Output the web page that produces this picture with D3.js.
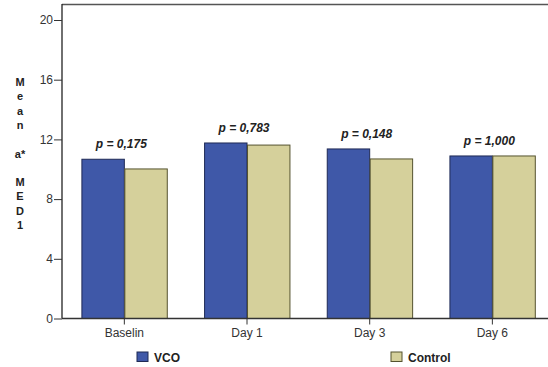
<!DOCTYPE html>
<html><head><meta charset="utf-8">
<script src="https://cdn.jsdelivr.net/npm/d3@7"></script>
<style>body{margin:0;background:#fff}svg{display:block}text{font-family:Arial,"Liberation Sans",sans-serif}</style>
</head><body>
<script>
const categories = ["Baselin", "Day 1", "Day 3", "Day 6"];
const series = ["VCO", "Control"];
const vco = [10.67, 11.76, 11.36, 10.89];
const control = [10.02, 11.62, 10.69, 10.89];
const pLabels = ["p = 0,175", "p = 0,783", "p = 0,148", "p = 1,000"];
const yTicks = [0, 4, 8, 12, 16, 20];
const yTitle = ["M","e","a","n","","a*","","M","E","D","1"];
const colors = {VCO: "#3f58a8", Control: "#d5d09b"};
const strokes = {VCO: "#1f2a55", Control: "#55532f"};

const W = 548, H = 367;
const svg = d3.select("body").append("svg").attr("width", W).attr("height", H);

const x0 = 63, x1 = 553.7, yTop = 20, yBot = 318.5;
const x = d3.scaleBand().domain(categories).range([x0, x1]).paddingInner(0.3).paddingOuter(0.15);
const xs = d3.scaleBand().domain(series).range([0, x.bandwidth()]);
const y = d3.scaleLinear().domain([0, 20]).range([yBot, yTop]);

// frame top
svg.append("line").attr("x1", 62).attr("x2", W).attr("y1", 4.5).attr("y2", 4.5)
  .attr("stroke", "#555").attr("stroke-width", 1.6);

const data = categories.map((c, i) => ({c, vals: [{s: "VCO", v: vco[i]}, {s: "Control", v: control[i]}], p: pLabels[i]}));

const g = svg.append("g").selectAll("g").data(data).join("g")
  .attr("transform", d => `translate(${x(d.c)},0)`);
g.selectAll("rect").data(d => d.vals).join("rect")
  .attr("x", d => xs(d.s) + 0.5)
  .attr("y", d => y(d.v))
  .attr("width", xs.bandwidth() - 0.5)
  .attr("height", d => yBot - y(d.v))
  .attr("fill", d => colors[d.s])
  .attr("stroke", d => strokes[d.s]).attr("stroke-width", 1);
g.append("text")
  .attr("x", x.bandwidth() / 2 - 3)
  .attr("y", d => y(d3.max(d.vals, v => v.v)) - 11)
  .attr("text-anchor", "middle")
  .attr("font-size", 12).attr("font-weight", "bold").attr("font-style", "italic")
  .attr("fill", "#222")
  .text(d => d.p);

// y axis
const ya = svg.append("g").attr("transform", `translate(62,0)`)
  .call(d3.axisLeft(y).tickValues(yTicks).tickSize(8).tickPadding(1));
ya.select(".domain").attr("d", `M0,4V${yBot}`).attr("stroke", "#222").attr("stroke-width", 1.3);
ya.selectAll(".tick line").attr("stroke", "#333");
ya.selectAll(".tick text").attr("font-size", 12).attr("fill", "#333")
  .style("font-family", "Arial, 'Liberation Sans', sans-serif");

// x axis
const xa = svg.append("g").attr("transform", `translate(0,${yBot})`)
  .call(d3.axisBottom(x).tickSize(6).tickPadding(4));
xa.select(".domain").attr("d", `M62,0H${W}`).attr("stroke", "#333").attr("stroke-width", 1.3);
xa.selectAll(".tick line").attr("stroke", "#333");
xa.selectAll(".tick text").attr("font-size", 12).attr("fill", "#333")
  .style("font-family", "Arial, 'Liberation Sans', sans-serif");

// y title stacked
svg.append("g").selectAll("text").data(yTitle).join("text")
  .attr("x", 20).attr("y", (d, i) => 86 + i * 14.3)
  .attr("text-anchor", "middle").attr("font-size", 11).attr("font-weight", "bold").attr("fill", "#222")
  .text(d => d);

// legend
const legX = [137, 391];
const lg = svg.append("g").selectAll("g").data(series).join("g")
  .attr("transform", (d, i) => `translate(${legX[i]},352)`);
lg.append("rect").attr("width", 11).attr("height", 9.5)
  .attr("fill", d => colors[d]).attr("stroke", d => strokes[d]).attr("stroke-width", 1);
lg.append("text").attr("x", 17).attr("y", 9.5).attr("font-size", 12).attr("font-weight", "bold").attr("fill", "#222")
  .text(d => d);
</script>
</body></html>
